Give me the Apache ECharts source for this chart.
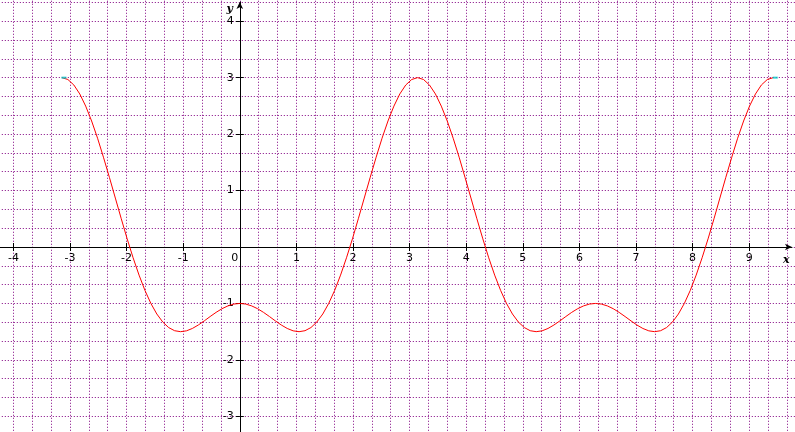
<!DOCTYPE html>
<html><head><meta charset="utf-8">
<script src="https://cdn.jsdelivr.net/npm/echarts@6/dist/echarts.min.js"></script>
<style>html,body{margin:0;padding:0;background:#fff}#c{width:795px;height:432px}</style>
</head><body><div id="c"></div>
<script>
// ---- data ----
const xValues = [
-3.142,-3.037,-2.932,-2.827,-2.723,-2.618,-2.513,-2.409,-2.304,-2.199,
-2.094,-1.990,-1.885,-1.780,-1.676,-1.571,-1.466,-1.361,-1.257,-1.152,
-1.047,-0.942,-0.838,-0.733,-0.628,-0.524,-0.419,-0.314,-0.209,-0.105,
0,
0.105,0.209,0.314,0.419,0.524,0.628,0.733,0.838,0.942,1.047,
1.152,1.257,1.361,1.466,1.571,1.676,1.780,1.885,1.990,2.094,
2.199,2.304,2.409,2.513,2.618,2.723,2.827,2.932,3.037,3.142,
3.246,3.351,3.456,3.560,3.665,3.770,3.875,3.979,4.084,4.189,
4.294,4.398,4.503,4.608,4.712,4.817,4.922,5.027,5.131,5.236,
5.341,5.445,5.550,5.655,5.760,5.864,5.969,6.074,6.178,6.283,
6.388,6.493,6.597,6.702,6.807,6.912,7.016,7.121,7.226,7.330,
7.435,7.540,7.645,7.749,7.854,7.959,8.063,8.168,8.273,8.378,
8.482,8.587,8.692,8.796,8.901,9.006,9.111,9.215,9.320,9.425
];
const yValues = [
3.000,2.967,2.870,2.711,2.496,2.232,1.927,1.591,1.234,0.867,
0.500,0.144,-0.191,-0.498,-0.769,-1.000,-1.187,-1.329,-1.427,-1.483,
-1.500,-1.485,-1.443,-1.382,-1.309,-1.232,-1.158,-1.093,-1.043,-1.011,
-1.000,
-1.011,-1.043,-1.093,-1.158,-1.232,-1.309,-1.382,-1.443,-1.485,-1.500,
-1.483,-1.427,-1.329,-1.187,-1.000,-0.769,-0.498,-0.191,0.144,0.500,
0.867,1.234,1.591,1.927,2.232,2.496,2.711,2.870,2.967,3.000,
2.967,2.870,2.711,2.496,2.232,1.927,1.591,1.234,0.867,0.500,
0.144,-0.191,-0.498,-0.769,-1.000,-1.187,-1.329,-1.427,-1.483,-1.500,
-1.485,-1.443,-1.382,-1.309,-1.232,-1.158,-1.093,-1.043,-1.011,-1.000,
-1.011,-1.043,-1.093,-1.158,-1.232,-1.309,-1.382,-1.443,-1.485,-1.500,
-1.483,-1.427,-1.329,-1.187,-1.000,-0.769,-0.498,-0.191,0.144,0.500,
0.867,1.234,1.591,1.927,2.232,2.496,2.711,2.870,2.967,3.000
];
const xTickLabels = [-4,-3,-2,-1,0,1,2,3,4,5,6,7,8,9];
const yTickLabels = [-3,-2,-1,1,2,3,4];

// ---- layout ----
const W = 795, H = 432;
const PX = 56.6, PY = 56.45;   // pixels per unit
const OX = 239.8, OY = 247;    // pixel position of origin
const XMIN = -5, XMAX = 10, YMIN = -4, YMAX = 5; // full grid extent (beyond canvas)
const GRID_STEP = 1 / 3;
const AX_RIGHT = 792, AX_TOP = 2;

const gL = OX + XMIN * PX, gR = W - (OX + XMAX * PX);
const gT = OY - YMAX * PY, gB = H - (OY - YMIN * PY);
const base = { containLabel: false, outerBoundsMode: 'none' };
const grids = [
  Object.assign({ left: gL, right: gR, top: gT, bottom: gB }, base),           // 0: dotted grid + curve
  Object.assign({ left: 0, right: W - AX_RIGHT, top: AX_TOP, bottom: 0 }, base),// 1: axis lines with arrows
  Object.assign({ left: gL, right: gR, top: 0, bottom: H - OY }, base),         // 2: x ticks & labels
  Object.assign({ left: OX, right: 0, top: gT, bottom: gB }, base)              // 3: y ticks & labels
];

const dotted = { color: '#800080', width: 1, type: [1, 2] };
const labelFont = { fontFamily: 'DejaVu Sans', fontSize: 11, color: '#000' };
const noLine = { show: false, onZero: false };
const tickOut = { show: true, inside: false, length: 4, lineStyle: { color: '#000', width: 1 } };
const tickIn = { show: true, inside: true, length: 4, lineStyle: { color: '#000', width: 1 } };
const num = v => Math.round(Number(v) * 1000) / 1000;
const hidden = gi => ({ type: 'value', gridIndex: gi, show: false, min: 0, max: 1, axisLine: noLine });
const arrowLine = { show: true, onZero: true, symbol: ['none', 'arrow'], symbolSize: [5, 7], lineStyle: { color: '#000', width: 1 } };
const nameFont = { fontFamily: 'DejaVu Serif', fontStyle: 'italic', fontWeight: 'bold', fontSize: 11, color: '#000' };

const chart = echarts.init(document.getElementById('c'), null, { renderer: 'canvas' });
chart.setOption({
  backgroundColor: '#fff',
  animation: false,
  grid: grids,
  xAxis: [
    { // 0
      type: 'value', gridIndex: 0, min: XMIN, max: XMAX, interval: GRID_STEP,
      axisLine: noLine, axisTick: { show: false }, axisLabel: { show: false },
      splitLine: { show: true, lineStyle: dotted }
    },
    { // 1
      type: 'value', gridIndex: 1, min: -OX / PX, max: (AX_RIGHT - OX) / PX,
      axisLine: arrowLine, axisTick: { show: false }, axisLabel: { show: false }, splitLine: { show: false },
      name: 'x', nameLocation: 'end', nameGap: -9,
      nameTextStyle: Object.assign({ verticalAlign: 'top', padding: [8, 0, 0, 0] }, nameFont)
    },
    { // 2: labels + downward ticks
      type: 'value', gridIndex: 2, min: XMIN, max: XMAX, interval: 1, position: 'bottom',
      axisLine: noLine, axisTick: tickOut, splitLine: { show: false },
      axisLabel: Object.assign({
        show: true, margin: 6, hideOverlap: false,
        formatter: function (v) {
          const n = num(v);
          if (xTickLabels.indexOf(n) < 0) return '';
          return n === 0 ? '{z|0}' : String(n);
        },
        rich: { z: Object.assign({ padding: [0, 10, 0, 0] }, labelFont) }
      }, labelFont)
    },
    { // 3: upward ticks
      type: 'value', gridIndex: 2, min: XMIN, max: XMAX, interval: 1, position: 'bottom',
      axisLine: noLine, axisTick: tickIn, axisLabel: { show: false }, splitLine: { show: false }
    },
    hidden(3)
  ],
  yAxis: [
    { // 0
      type: 'value', gridIndex: 0, min: YMIN, max: YMAX, interval: GRID_STEP,
      axisLine: noLine, axisTick: { show: false }, axisLabel: { show: false },
      splitLine: { show: true, lineStyle: dotted }
    },
    { // 1
      type: 'value', gridIndex: 1, min: -(H - OY) / PY, max: (OY - AX_TOP) / PY,
      axisLine: arrowLine, axisTick: { show: false }, axisLabel: { show: false }, splitLine: { show: false },
      name: 'y', nameLocation: 'end', nameGap: -13,
      nameTextStyle: Object.assign({ align: 'right', padding: [0, 7, 0, 0] }, nameFont)
    },
    hidden(2),
    { // 3: labels + leftward ticks
      type: 'value', gridIndex: 3, min: YMIN, max: YMAX, interval: 1, position: 'left',
      axisLine: noLine, axisTick: tickOut, splitLine: { show: false },
      axisLabel: Object.assign({
        show: true, margin: 6, hideOverlap: false,
        formatter: function (v) {
          const n = num(v);
          return yTickLabels.indexOf(n) < 0 ? '' : String(n);
        }
      }, labelFont)
    },
    { // 4: rightward ticks
      type: 'value', gridIndex: 3, min: YMIN, max: YMAX, interval: 1, position: 'left',
      axisLine: noLine, axisTick: tickIn, axisLabel: { show: false }, splitLine: { show: false }
    }
  ],
  series: [
    {
      type: 'line', xAxisIndex: 0, yAxisIndex: 0,
      data: xValues.map((x, i) => [x, yValues[i]]),
      showSymbol: false, symbol: 'none', smooth: false, clip: false,
      lineStyle: { color: '#ff0000', width: 1 }, z: 5, silent: true
    },
    {
      type: 'scatter', xAxisIndex: 0, yAxisIndex: 0,
      data: [[xValues[0], yValues[0]], [xValues[xValues.length - 1], yValues[yValues.length - 1]]],
      symbol: 'rect', symbolSize: [5, 2], symbolOffset: [2, 0],
      itemStyle: { color: '#00c8c8' }, z: 6, silent: true
    }
  ]
});
</script>
</body></html>
